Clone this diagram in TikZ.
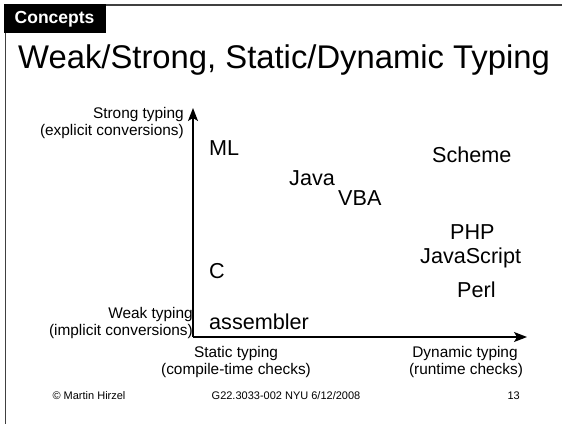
\documentclass[tikz,border=0pt]{standalone}
\usepackage{fontspec}
\setmainfont{Liberation Sans}
\usetikzlibrary{arrows.meta}

\tikzset{
  lang/.style={anchor=base west, inner sep=0pt, font=\fontsize{21.6}{26}\selectfont},
  axlbl/.style={inner sep=0pt, font=\fontsize{15.4}{17}\selectfont},
  foot/.style={anchor=base, inner sep=0pt, font=\fontsize{11}{13}\selectfont},
  axis/.style={line width=1.3pt, -{Stealth[length=13pt, width=10pt, inset=3pt]}},
  framecol/.style={draw=black!75, line width=1.2pt}
}

\begin{document}
\begin{tikzpicture}[x=1pt, y=-1pt]
  \useasboundingbox (0,0) rectangle (562,424);

  % slide frame
  \draw[framecol] (4,5) -- (562,5);
  \draw[framecol] (5.5,5) -- (5.5,424);

  % section tab
  \fill[black] (4,4) rectangle (106,33);
  \node[anchor=base west, inner sep=0pt, text=white,
        font=\fontsize{17.5}{20}\selectfont\bfseries] (tab) at (14.5,23) {Concepts};

  % title
  \node[anchor=base west, inner sep=0pt, font=\fontsize{32.8}{38}\selectfont]
    (title) at (18,68) {Weak/Strong, Static/Dynamic Typing};

  % axes
  \coordinate (O) at (193,337);
  \coordinate (ytip) at (193,108);
  \coordinate (xtip) at (527,337);
  \draw[axis] (O) -- (ytip);
  \draw[axis] (O) -- (xtip);

  % vertical axis labels
  \node[axlbl, anchor=base east] (strong1) at (184,118) {Strong typing};
  \node[axlbl, anchor=base east] (strong2) at (184,135) {(explicit conversions)};
  \node[axlbl, anchor=base east] (weak1) at (193,318) {Weak typing};
  \node[axlbl, anchor=base east] (weak2) at (193,335) {(implicit conversions)};

  % horizontal axis labels
  \node[axlbl, anchor=base] (static1) at (236,357) {Static typing};
  \node[axlbl, anchor=base] (static2) at (236,374) {(compile-time checks)};
  \node[axlbl, anchor=base] (dyn1) at (465,357) {Dynamic typing};
  \node[axlbl, anchor=base] (dyn2) at (466,374) {(runtime checks)};

  % languages
  \node[lang] (ml) at (209,155) {ML};
  \node[lang] (java) at (289,185) {Java};
  \node[lang] (vba) at (338,205) {VBA};
  \node[lang] (scheme) at (432,162) {Scheme};
  \node[lang] (php) at (450,239) {PHP};
  \node[lang] (js) at (420,263) {JavaScript};
  \node[lang] (perl) at (457,297) {Perl};
  \node[lang] (c) at (209,278) {C};
  \node[lang] (asm) at (209,329) {assembler};

  % footer
  \node[foot] (author) at (89,399) {© Martin Hirzel};
  \node[foot] (course) at (286,399) {G22.3033-002 NYU 6/12/2008};
  \node[foot, anchor=base east] (page) at (520,399) {13};
\end{tikzpicture}
\end{document}
